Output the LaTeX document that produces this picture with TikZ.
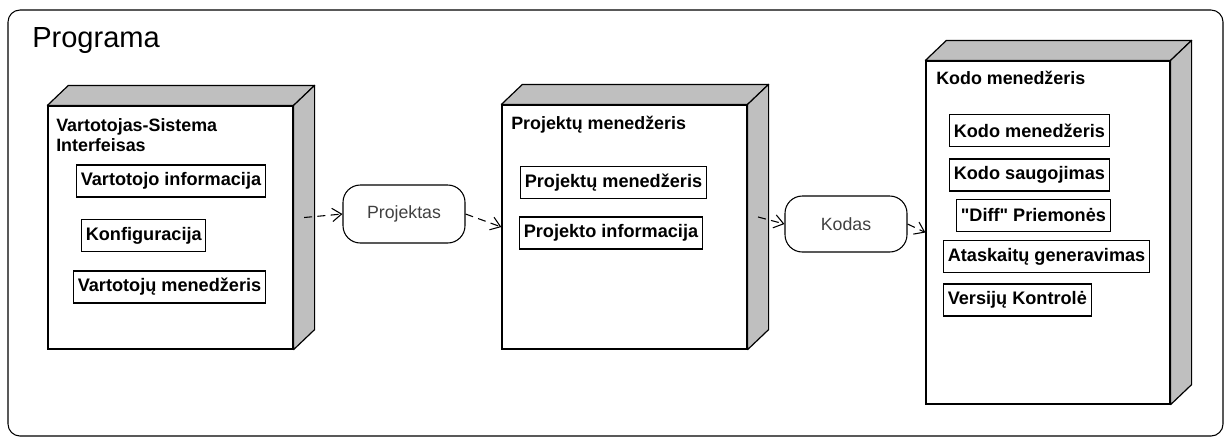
\documentclass[tikz,border=0pt]{standalone}
\usepackage{fontspec}
\setmainfont{Liberation Sans}[Ligatures=TeXOff]
\usepackage{tikz}
\usetikzlibrary{arrows.meta}

% top and side faces of a device node
\newcommand{\devfaces}[1]{%
  \draw[face] (#1.north west) -- ++(21,-20) -- ([shift={(21,-20)}]#1.north east) -- (#1.north east) -- cycle;
  \draw[face] (#1.north east) -- ++(21,-20) -- ([shift={(21,-20)}]#1.south east) -- (#1.south east) -- cycle;
}

\begin{document}
\begin{tikzpicture}[x=0.75pt,y=-0.75pt,
    device/.style={draw,line width=0.9pt,fill=white,inner sep=0pt},
    face/.style={draw,line width=0.9pt,fill=gray!50,line join=round},
    part/.style={draw,line width=0.8pt,anchor=west,minimum height=24pt,inner xsep=3.2pt,
      font=\fontsize{13.6}{15.5}\selectfont\bfseries},
    devtitle/.style={anchor=west,align=left,inner sep=0pt,font=\fontsize{13.4}{15}\selectfont\bfseries},
    artifact/.style={draw,line width=0.8pt,rounded corners=13pt,minimum width=91.5pt,
      text=black!75,font=\fontsize{13.3}{15}\selectfont},
    dep/.style={dashed,dash pattern=on 6pt off 4pt,line width=0.8pt,
      -{Straight Barb[length=7pt,width=10pt,line width=0.8pt]}}]
	 \useasboundingbox (0,0) rectangle (1226,437);
	 \draw[line width=0.8pt,rounded corners=9pt] (8,10) rectangle (1223,436);
	 \node[anchor=base west,inner sep=0pt,font=\fontsize{21.8}{25}\selectfont] (prog) at (32,47) {Programa};

	 % devices
	 \node[device,minimum width=183.75pt,minimum height=182.25pt] (vsi) at (170.5,227.5) {};
	 \devfaces{vsi}
	 \node[device,minimum width=183.75pt,minimum height=183pt] (pm) at (624.5,227) {};
	 \devfaces{pm}
	 \node[device,minimum width=183pt,minimum height=257.25pt] (km) at (1048,232.5) {};
	 \devfaces{km}

	 % device titles
	 \node[devtitle] (vsiT) at (56,135) {Vartotojas-Sistema\\Interfeisas};
	 \node[devtitle] (pmT) at (511,125) {Projektų menedžeris};
	 \node[devtitle] (kmT) at (936,78) {Kodo menedžeris};

	 % parts
	 \node[part] (vinfo) at (76,181) {Vartotojo informacija};
	 \node[part] (konf) at (81,235.5) {Konfiguracija};
	 \node[part] (vmen) at (73,287) {Vartotojų menedžeris};
	 \node[part] (pmen) at (520,182.5) {Projektų menedžeris};
	 \node[part] (pinfo) at (519,233) {Projekto informacija};
	 \node[part] (kmen) at (949,130.5) {Kodo menedžeris};
	 \node[part] (ksaug) at (949,175) {Kodo saugojimas};
	 \node[part] (diff) at (956,215.5) {"Diff" Priemonės};
	 \node[part] (atask) at (943,256.5) {Ataskaitų generavimas};
	 \node[part] (versij) at (943,300) {Versijų Kontrolė};

	 % artifacts
	 \node[artifact,minimum height=43.5pt] (proj) at (404,214) {Projektas};
	 \node[artifact,minimum height=42pt] (kodas) at (846,224) {Kodas};

	 \draw[dep] ([shift={(10.5,-10)}]vsi.east) -- (proj.west);
	 \draw[dep] (proj.east) -- (pm.west);
	 \draw[dep] ([shift={(10.5,-10)}]pm.east) -- (kodas.west);
	 \draw[dep] (kodas.east) -- (km.west);
\end{tikzpicture}
\end{document}
